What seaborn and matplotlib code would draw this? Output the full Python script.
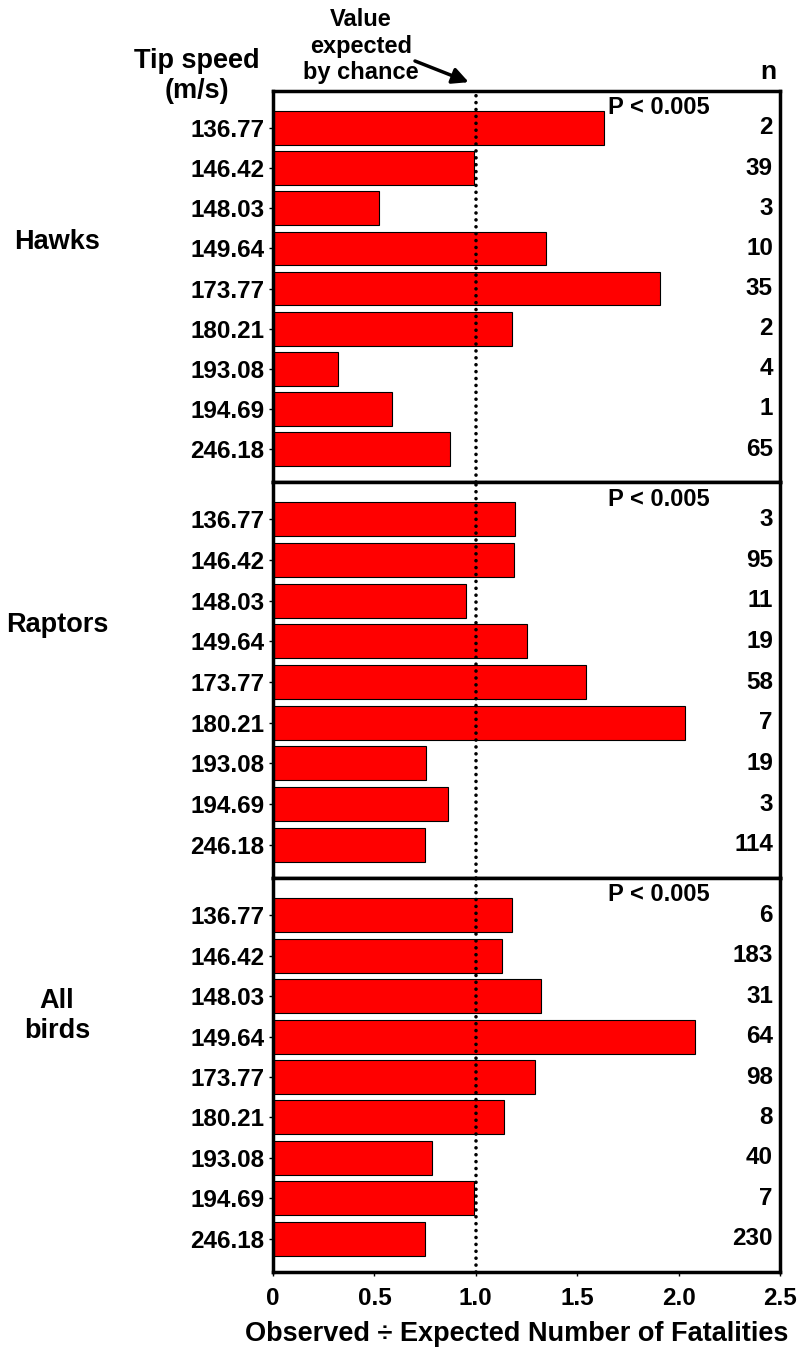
import pandas as pd
import matplotlib
matplotlib.use('Agg')
import matplotlib.pyplot as plt
import seaborn as sns

# tip speeds (m/s), same order in every panel
speeds = ['136.77', '146.42', '148.03', '149.64', '173.77',
          '180.21', '193.08', '194.69', '246.18']

# observed / expected ratios and sample sizes
hawks_ratio = [1.63, 0.99, 0.525, 1.345, 1.91, 1.18, 0.32, 0.585, 0.875]
hawks_n = [2, 39, 3, 10, 35, 2, 4, 1, 65]

raptors_ratio = [1.195, 1.19, 0.95, 1.25, 1.545, 2.03, 0.755, 0.865, 0.75]
raptors_n = [3, 95, 11, 19, 58, 7, 19, 3, 114]

all_ratio = [1.18, 1.13, 1.32, 2.08, 1.29, 1.14, 0.785, 0.99, 0.75]
all_n = [6, 183, 31, 64, 98, 8, 40, 7, 230]

groups = ['Hawks', 'Raptors', 'All\nbirds']
p_text = 'P < 0.005'
x_ticks = [0, 0.5, 1.0, 1.5, 2.0, 2.5]
x_labels = ['0', '0.5', '1.0', '1.5', '2.0', '2.5']

sns.set_style('ticks')
plt.rcParams['font.family'] = ['Liberation Sans', 'DejaVu Sans']
plt.rcParams['font.weight'] = 'bold'
plt.rcParams['font.size'] = 17
for k in ['text.color', 'axes.labelcolor', 'xtick.color', 'ytick.color']:
    plt.rcParams[k] = 'black'

W, H = 800, 1350
fig = plt.figure(figsize=(8, 13.5), dpi=100)

# panel edges in pixels (top, bottom)
panels = [(91, 482), (482, 878), (878, 1272)]
group_y = [242, 625, 1016]
data = [(hawks_ratio, hawks_n), (raptors_ratio, raptors_n), (all_ratio, all_n)]

axes = []
for i, ((top, bot), (ratio, ns)) in enumerate(zip(panels, data)):
    ax = fig.add_axes([273 / W, 1 - bot / H, 507 / W, (bot - top) / H])
    df = pd.DataFrame({'speed': speeds, 'ratio': ratio})
    sns.barplot(data=df, x='ratio', y='speed', order=speeds, orient='h',
                color='#ff0000', saturation=1, edgecolor='black',
                linewidth=0.8, width=0.84, ax=ax)
    ax.axvline(1.0, color='black', lw=2.6, ls=(0, (0.01, 1.9)),
               dash_capstyle='round', zorder=5)
    ax.set_xlim(0, 2.5)
    ax.set_ylim(8.82, -0.92)
    ax.set_xlabel('')
    ax.set_ylabel('')
    for s in ax.spines.values():
        s.set_visible(True)
        s.set_linewidth(2.5)
        s.set_color('black')
    ax.tick_params(axis='y', length=3, width=1, pad=3, labelsize=17.5)
    ax.set_xticks(x_ticks)
    if i < 2:
        ax.tick_params(axis='x', length=0, labelbottom=False)
    else:
        ax.set_xticklabels(x_labels)
        ax.tick_params(axis='x', length=3, width=1, pad=8, labelsize=17.5)
    for j, n in enumerate(ns):
        ax.text(2.465, j, str(n), ha='right', va='center', fontsize=17.5)
    ax.text(1.9, -0.5, p_text, ha='center', va='center', fontsize=17)
    fig.text(57 / W, 1 - group_y[i] / H, groups[i], ha='center', va='center',
             fontsize=19.5, linespacing=1.18)
    axes.append(ax)

# headers
fig.text(197 / W, 1 - 76 / H, 'Tip speed\n(m/s)', ha='center', va='center',
         fontsize=19.5, linespacing=1.15)
fig.text(361 / W, 1 - 46 / H, 'Value\nexpected\nby chance', ha='center',
         va='center', fontsize=17, linespacing=1.2)
fig.text(768 / W, 1 - 72 / H, 'n', ha='center', va='center', fontsize=19)
axes[0].annotate('', xy=(0.965, -1.14), xycoords='data',
                 xytext=(415 / W, 1 - 61 / H), textcoords='figure fraction',
                 arrowprops=dict(arrowstyle='-|>', color='black', lw=2.5,
                                 mutation_scale=24, shrinkA=0, shrinkB=0),
                 annotation_clip=False)

fig.text(517 / W, 1 - 1334 / H, 'Observed ÷ Expected Number of Fatalities',
         ha='center', va='center', fontsize=19.5)

fig.savefig('out.png', dpi=100)
